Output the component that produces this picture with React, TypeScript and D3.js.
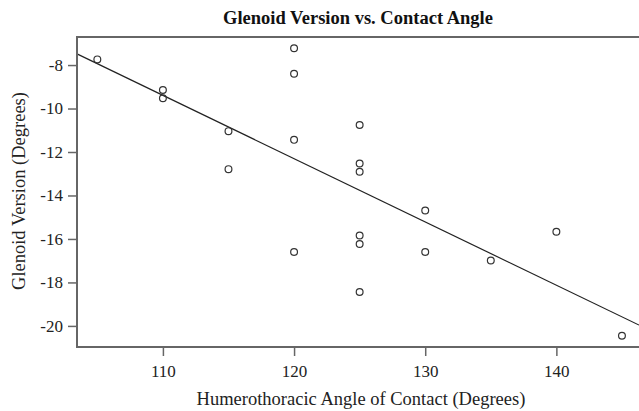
import React, { useRef, useEffect } from 'react';
import * as d3 from 'd3';

// humerothoracic angle of contact (degrees)
const angles = [105, 110, 110, 115, 115, 120, 120, 120, 120, 125, 125, 125, 125, 125, 125, 130, 130, 135, 140, 145];
// glenoid version (degrees)
const versions = [-7.74, -9.15, -9.53, -11.04, -12.79, -7.23, -8.4, -11.44, -16.6, -10.76, -12.53, -12.91, -15.84, -16.23, -18.44, -14.69, -16.6, -16.99, -15.67, -20.45];
const xTicks = [110, 120, 130, 140];
const yTicks = [-8, -10, -12, -14, -16, -18, -20];

const title = 'Glenoid Version vs. Contact Angle';
const xTitle = 'Humerothoracic Angle of Contact (Degrees)';
const yTitle = 'Glenoid Version (Degrees)';

function ScatterChart() {
  const ref = useRef<SVGSVGElement | null>(null);

  useEffect(() => {
    document.body.style.margin = '0';
    if (!ref.current) return;
    const svg = d3.select(ref.current);
    svg.selectAll('*').remove();

    const width = 639;
    const height = 411;
    const margin = { top: 37, right: 0, bottom: 64, left: 77 };
    const font = '"Liberation Serif", "Times New Roman", serif';
    const axisColor = '#666';

    const x = d3.scaleLinear()
      .domain([103.45, 146.3])
      .range([margin.left, width - margin.right]);
    const y = d3.scaleLinear()
      .domain([-20.97, -6.71])
      .range([height - margin.bottom, margin.top]);

    const data = angles.map((a, i) => ({ a, v: versions[i] }));

    // least squares fit
    const mx = d3.mean(angles) as number;
    const my = d3.mean(versions) as number;
    const sxy = d3.sum(data, d => (d.a - mx) * (d.v - my));
    const sxx = d3.sum(data, d => (d.a - mx) ** 2);
    const slope = sxy / sxx;
    const fit = (a: number) => my + slope * (a - mx);

    svg.append('rect')
      .attr('width', width)
      .attr('height', height)
      .attr('fill', 'white');

    const [x0, x1] = x.domain();
    svg.append('line')
      .attr('x1', x(x0))
      .attr('y1', y(fit(x0)))
      .attr('x2', x(x1))
      .attr('y2', y(fit(x1)))
      .attr('stroke', '#222')
      .attr('stroke-width', 1.2);

    svg.selectAll('circle.pt')
      .data(data)
      .enter().append('circle')
      .attr('class', 'pt')
      .attr('cx', d => x(d.a))
      .attr('cy', d => y(d.v))
      .attr('r', 3.4)
      .attr('fill', 'none')
      .attr('stroke', '#333')
      .attr('stroke-width', 1.2);

    // frame: top, left, bottom
    const y0 = height - margin.bottom;
    svg.append('path')
      .attr('d', `M${width},${margin.top}H${margin.left}V${y0}H${width}`)
      .attr('fill', 'none')
      .attr('stroke', axisColor)
      .attr('stroke-width', 2);

    const xAxis = svg.append('g')
      .attr('transform', `translate(0, ${y0})`)
      .call(d3.axisBottom(x).tickValues(xTicks).tickSize(9).tickSizeOuter(0));
    const yAxis = svg.append('g')
      .attr('transform', `translate(${margin.left}, 0)`)
      .call(d3.axisLeft(y).tickValues(yTicks).tickSize(9).tickSizeOuter(0).tickFormat(d => String(d)));

    [xAxis, yAxis].forEach(g => {
      g.select('.domain').remove();
      g.selectAll('line').attr('stroke', axisColor).attr('stroke-width', 1.5);
      g.selectAll('text')
        .attr('fill', '#222')
        .style('font-family', font)
        .style('font-size', '17px');
    });
    xAxis.selectAll('text').attr('dy', '1.05em');
    yAxis.selectAll('text').attr('x', -14);

    svg.append('text')
      .attr('x', 358)
      .attr('y', 24)
      .attr('text-anchor', 'middle')
      .attr('fill', '#111')
      .style('font-family', font)
      .style('font-size', '18.5px')
      .style('font-weight', 'bold')
      .text(title);

    svg.append('text')
      .attr('x', 361)
      .attr('y', 405)
      .attr('text-anchor', 'middle')
      .attr('fill', '#222')
      .style('font-family', font)
      .style('font-size', '18.5px')
      .text(xTitle);

    svg.append('text')
      .attr('transform', `translate(25, 191) rotate(-90)`)
      .attr('text-anchor', 'middle')
      .attr('fill', '#222')
      .style('font-family', font)
      .style('font-size', '18.5px')
      .text(yTitle);
  }, []);

  return <svg ref={ref} width={639} height={411} style={{ display: 'block' }} />;
}

export default function App() {
  return <ScatterChart />;
}
